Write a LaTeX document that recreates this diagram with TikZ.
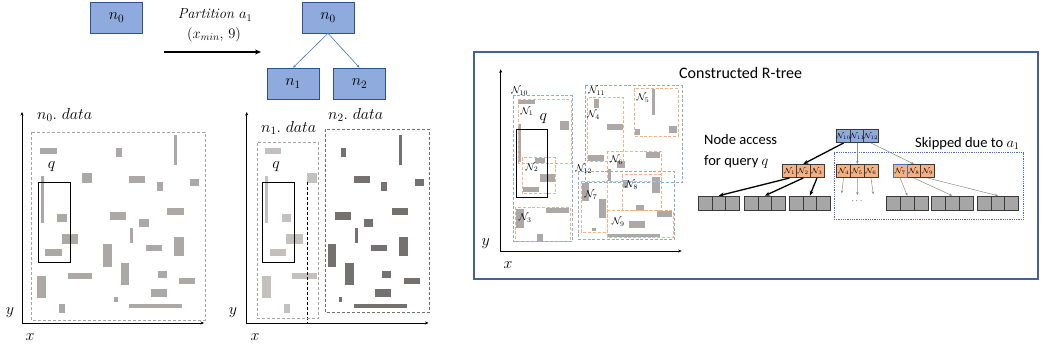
\RequirePackage{fix-cm}
\documentclass[tikz,border=0pt]{standalone}
\usepackage{fontspec}
\newfontfamily\labelsans{Carlito}
\usetikzlibrary{arrows.meta}

\definecolor{boxblue}{HTML}{8FAADC}
\definecolor{boxline}{HTML}{2F528F}
\definecolor{edgeblue}{HTML}{4472C4}
\definecolor{objgray}{HTML}{ADA8A8}
\definecolor{objlight}{HTML}{C4C0C0}
\definecolor{objdark}{HTML}{767171}
\definecolor{dashgray}{HTML}{A6A6A6}
\definecolor{dashdark}{HTML}{707070}
\definecolor{mbrorange}{HTML}{F4B183}
\definecolor{mbrblue}{HTML}{8FAADC}
\definecolor{nodeorange}{HTML}{F4B183}
\definecolor{leafgray}{HTML}{A6A6A6}
\definecolor{frameblue}{HTML}{44619A}
\definecolor{cellline}{HTML}{3A3A3A}
\definecolor{thingray}{HTML}{8C8C8C}

% data objects: x1/y1/x2/y2
\def\objsnone{40/148.3/56.7/154, 82.3/172.7/92.3/182.7, 40.7/176/43.7/222.7,
  57.3/214.3/66.7/222, 61.7/234.3/78/243.7, 45/249/61.7/256.3,
  67.7/272.7/92.3/279.3, 37.3/275.7/46/297.7, 59/304/65/312.7}
\def\objsntwo{116/147.7/121.7/156.7, 174/135/177.3/165, 129.3/175.7/145.3/182.7,
  156.7/181.7/162.7/190.7, 190/179/199.3/186, 110/212.3/126/219.7,
  167.3/207.7/183.7/215.3, 139/219.3/148.7/227, 130/227.7/133.3/242.7,
  146/244.7/162.3/251.3, 174.3/236.7/183.7/255.7, 103/244.3/111.7/266.7,
  120.7/262.7/129/285, 157.7/271/166.7/278.3, 179/277.7/195.3/283.7,
  150.7/289/166.7/296.7, 114/296.7/117.7/301.7, 129/304/182/307.7}
\def\objsrtree{518.3/100/535/104, 560/120.7/569.3/130, 518.3/124.3/520.7/162.3,
  535/157.7/545/162.7, 540/174/555/181.7, 523.3/186.7/539.3/192.3,
  516/209.3/524/228.3, 545.7/207.7/569.3/212.7, 536.7/234/542.7/241,
  652/89.3/654.7/114.7, 668.7/126.3/677/132.7, 634.7/128.7/640.3/135.3,
  593.7/99.3/599.3/108, 607/123.7/623/129.7, 588/154.7/603.7/161,
  646/152/660.3/158, 617/161.3/625.3/168, 608/169.3/611.3/181,
  582/182.7/589.3/201.3, 598.7/198.7/606.3/218, 592/227.7/596/231.3,
  652/177/660.3/193, 636/204.7/643.7/209.7, 622.7/180.3/628/188,
  657/211.3/672/217, 628.7/221.3/644.7/227.7, 607/233.7/659.7/237}

\begin{document}
\begin{tikzpicture}[x=1pt,y=-1pt,
  tnode/.style={draw=boxline, line width=0.6pt, fill=boxblue, minimum width=52pt,
    minimum height=31pt, inner sep=0pt, font=\fontsize{16}{18}\selectfont},
  treeedge/.style={edgeblue, line width=0.6pt, -{Stealth[length=3pt,width=2.5pt]}},
  bigarrow/.style={black, line width=1.2pt, -{Stealth[length=6pt,width=5pt]}},
  axis/.style={black, line width=0.5pt, {Stealth[length=3.5pt,width=3pt]}-{Stealth[length=3.5pt,width=3pt]}},
  mathlabel/.style={inner sep=0pt, font=\fontsize{16}{18}\selectfont},
  querybox/.style={draw=black, line width=0.8pt},
  datadash/.style={dashgray, line width=0.9pt, dash pattern=on 3pt off 2pt},
  mbro/.style={mbrorange, line width=1pt, dash pattern=on 3pt off 1.8pt},
  mbrb/.style={mbrblue, line width=1pt, dash pattern=on 3pt off 1.8pt},
  mbrlabel/.style={inner sep=0pt, font=\fontsize{10}{11}\selectfont},
  cell/.style={draw=cellline, line width=0.6pt, minimum width=13.7pt, minimum height=13.4pt,
    inner sep=0pt, font=\fontsize{7.5}{8}\selectfont},
  leaf/.style={cell, fill=leafgray, minimum height=14pt},
  thickarrow/.style={black, line width=1.3pt, -{Stealth[length=5pt,width=4pt]}},
  thinarrow/.style={thingray, line width=0.5pt, -{Stealth[length=3pt,width=2.5pt]}},
  sanslabel/.style={inner sep=0pt, font=\labelsans\fontsize{14.5}{16}\selectfont},
]
\useasboundingbox (0,0) rectangle (1042,350);

% ---------- partition step at the top ----------
\node[tnode] (a0) at (116.5,17.5) {$n_0$};
\node[tnode] (b0) at (328,17.5) {$n_0$};
\node[tnode] (b1) at (293,83.5) {$n_1$};
\node[tnode] (b2) at (359.5,83.5) {$n_2$};
\draw[treeedge] (b0.south) -- (b1.north);
\draw[treeedge] (b0.south) -- (b2.north);
\coordinate (pa) at (164,52);
\coordinate (pb) at (261,52);
\draw[bigarrow] (pa) -- (pb);
\node[inner sep=0pt, font=\fontsize{14.5}{16}\selectfont] (ptxt) at (215,15) {\textit{Partition} $a_1$};
\node[inner sep=0pt, font=\fontsize{14.5}{16}\selectfont] (pval) at (214,35) {$(x_{min},\,9)$};

% ---------- left panel: n0.data ----------
\coordinate (l0) at (22,323);
\coordinate (ly) at (22,112);
\coordinate (lx) at (204,323);
\draw[axis] (ly) -- (l0) -- (lx);
\node[mathlabel] (lyl) at (10,313) {$y$};
\node[mathlabel] (lxl) at (30,337) {$x$};
\foreach \a/\b/\c/\d in \objsnone {\fill[objgray] (\a,\b) rectangle (\c,\d);}
\foreach \a/\b/\c/\d in \objsntwo {\fill[objgray] (\a,\b) rectangle (\c,\d);}
\draw[datadash] (31,132) rectangle (205,320);
\node[mathlabel, anchor=west] (d0) at (37,115) {$n_0.\ data$};
\draw[querybox] (38.3,182.7) rectangle (70,262.3);
\node[mathlabel] (lq) at (51.7,166.7) {$q$};

% ---------- middle panel: n1.data and n2.data ----------
\begin{scope}[xshift=224.5pt]
  \foreach \a/\b/\c/\d in \objsnone {\fill[objlight] (\a,\b) rectangle (\c,\d);}
  \foreach \a/\b/\c/\d in \objsntwo {\fill[objdark] (\a,\b) rectangle (\c,\d);}
  \draw[querybox] (38.3,182.7) rectangle (70,262.3);
\end{scope}
\coordinate (m0) at (246.7,323);
\coordinate (my) at (246.7,112);
\coordinate (mx) at (428.5,323);
\draw[axis] (my) -- (m0) -- (mx);
\node[mathlabel] (myl) at (233,313) {$y$};
\node[mathlabel] (mxl) at (255,337) {$x$};
\coordinate (s1) at (307,182);
\coordinate (s2) at (307,323);
\draw[black, line width=0.8pt, dash pattern=on 3pt off 2pt] (s1) -- (s2);
\draw[datadash] (257.3,142.7) rectangle (318.3,318.3);
\draw[dashdark, line width=0.9pt, dash pattern=on 3pt off 2pt] (325,129) rectangle (429,312.3);
\node[mathlabel, anchor=west] (d1) at (261,128) {$n_1.\ data$};
\node[mathlabel, anchor=west] (d2) at (328,115) {$n_2.\ data$};
\node[mathlabel] (mq) at (276.2,166.7) {$q$};

% ---------- right panel: constructed R-tree ----------
\draw[frameblue, line width=1.4pt] (474,52) rectangle (1038,279);
\node[sanslabel, font=\labelsans\fontsize{16}{18}\selectfont, anchor=west] (rtitle) at (679,73) {Constructed R-tree};

\coordinate (r0) at (500.7,251);
\coordinate (ry) at (500.7,69.3);
\coordinate (rx) at (681.7,251);
\draw[axis] (ry) -- (r0) -- (rx);
\node[mathlabel] (ryl) at (485.7,243.3) {$y$};
\node[mathlabel] (rxl) at (508,265) {$x$};
\foreach \a/\b/\c/\d in \objsrtree {\fill[objgray] (\a,\b) rectangle (\c,\d);}

% leaf-level MBRs
\draw[mbro] (518.3,100) rectangle (571,164);
\draw[mbro] (522.3,157.7) rectangle (555.7,194);
\draw[mbro] (515,207.3) rectangle (570,241.7);
\draw[mbro] (587,98) rectangle (623.7,162);
\draw[mbro] (634.3,88.7) rectangle (678,136.3);
\draw[mbro] (607,151.3) rectangle (661.3,182);
\draw[mbro] (581.3,181.3) rectangle (607,232);
\draw[mbro] (622,174.7) rectangle (661.3,210.3);
\draw[mbro] (607,210.3) rectangle (673,237);
% upper-level MBRs
\draw[mbrb] (513.3,96) rectangle (572.7,241.7);
\draw[mbrb] (585.3,86) rectangle (682,182.7);
\draw[mbrb] (578,172) rectangle (674.7,239.3);

\node[mbrlabel] (L10) at (519.7,91) {$\mathcal{N}_{10}$};
\node[mbrlabel] (L1) at (527,111.7) {$\mathcal{N}_{1}$};
\node[mbrlabel] (L2) at (532,167.7) {$\mathcal{N}_{2}$};
\node[mbrlabel] (L3) at (525.3,218.3) {$\mathcal{N}_{3}$};
\node[mbrlabel] (L11) at (596.7,91.3) {$\mathcal{N}_{11}$};
\node[mbrlabel] (L4) at (593.5,115.3) {$\mathcal{N}_{4}$};
\node[mbrlabel] (L5) at (643,98) {$\mathcal{N}_{5}$};
\node[mbrlabel] (L6) at (616.5,160.3) {$\mathcal{N}_{6}$};
\node[mbrlabel] (L12) at (583.7,169.3) {$\mathcal{N}_{12}$};
\node[mbrlabel] (L7) at (591,195.3) {$\mathcal{N}_{7}$};
\node[mbrlabel] (L8) at (631.7,185.3) {$\mathcal{N}_{8}$};
\node[mbrlabel] (L9) at (618.3,222) {$\mathcal{N}_{9}$};

\draw[querybox] (516,129.3) rectangle (547.7,197.3);
\node[mathlabel] (rq) at (543.3,118.3) {$q$};

% ---------- R-tree nodes ----------
\node[cell, fill=boxblue] (n10) at (843.55,136) {$\mathcal{N}_{10}$};
\node[cell, fill=boxblue] (n11) at (857.25,136) {$\mathcal{N}_{11}$};
\node[cell, fill=boxblue] (n12) at (870.95,136) {$\mathcal{N}_{12}$};

\node[cell, fill=nodeorange] (c1) at (789.55,171) {$\mathcal{N}_{1}$};
\node[cell, fill=nodeorange] (c2) at (803.25,171) {$\mathcal{N}_{2}$};
\node[cell, fill=nodeorange] (c3) at (816.95,171) {$\mathcal{N}_{3}$};
\node[cell, fill=nodeorange] (c4) at (843.55,171) {$\mathcal{N}_{4}$};
\node[cell, fill=nodeorange] (c5) at (857.25,171) {$\mathcal{N}_{5}$};
\node[cell, fill=nodeorange] (c6) at (870.95,171) {$\mathcal{N}_{6}$};
\node[cell, fill=nodeorange] (c8) at (913.85,171) {$\mathcal{N}_{8}$};
\node[cell, fill=nodeorange] (c9) at (927.55,171) {$\mathcal{N}_{9}$};
\node[cell, fill=nodeorange, draw=edgeblue] (c7) at (900.15,171) {$\mathcal{N}_{7}$};

\foreach \g/\lx in {1/698.3, 2/744.3, 3/789.3, 4/886.7, 5/931.7, 6/977.3} {
  \foreach \k in {0,1,2} {
    \node[leaf] (g\g-\k) at ({\lx+6.85+13.7*\k},203) {};
  }
}

\draw[densely dotted, edgeblue, line width=0.8pt] (834,152.7) rectangle (1023.3,219.3);

\draw[thickarrow] (n10.south) -- (c2.north);
\draw[thinarrow] (n11.south) -- (c5.north);
\draw[thinarrow] (n12.south) -- (c8.north);
\draw[thickarrow] (c1.south) -- (g1-1.north);
\draw[thickarrow] (c2.south) -- (g2-1.north);
\draw[thickarrow] (c3.south) -- (g3-1.north);
\coordinate (e4) at (841.7,193.3);
\coordinate (e5) at (857.3,195);
\coordinate (e6) at (873.3,194.3);
\draw[thinarrow] (c4.south) -- (e4);
\draw[thinarrow] (c5.south) -- (e5);
\draw[thinarrow] (c6.south) -- (e6);
\node[inner sep=0pt, font=\fontsize{9}{9}\selectfont] (more) at (857,201) {$\cdots$};
\draw[thinarrow] (c7.south) -- (g4-1.north);
\draw[thinarrow] (c8.south) -- (g5-1.north);
\draw[thinarrow] (c9.south) -- (g6-1.north);

\node[sanslabel, anchor=west] (acc1) at (704,140) {Node access};
\node[sanslabel, anchor=west] (acc2) at (704,161.7) {for query $q$};
\node[sanslabel, anchor=west] (skip) at (915,143.3) {Skipped due to $a_1$};
\end{tikzpicture}
\end{document}
